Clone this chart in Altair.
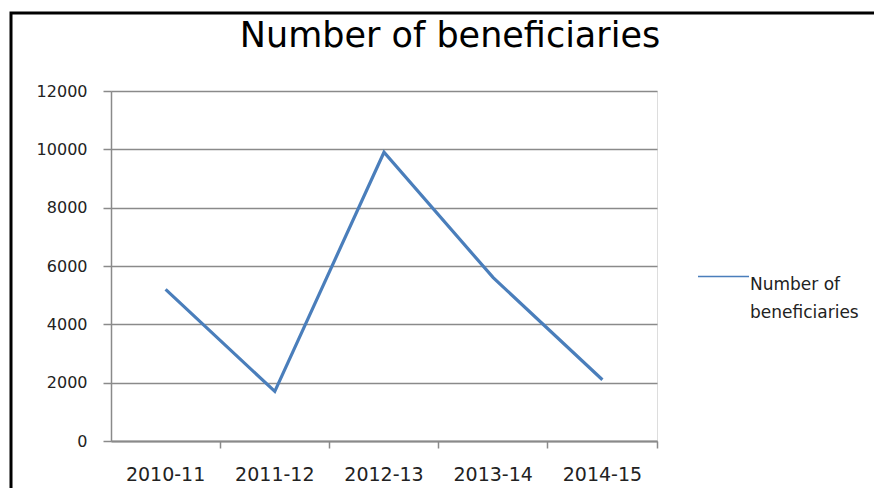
import altair as alt
import pandas as pd

years = ["2010-11", "2011-12", "2012-13", "2013-14", "2014-15"]
beneficiaries = [5200, 1700, 9900, 5600, 2100]
series_name = "Number of beneficiaries"
y_ticks = [0, 2000, 4000, 6000, 8000, 10000, 12000]

df = pd.DataFrame({"year": years, "value": beneficiaries, "series": [series_name] * len(years)})

FONT = "DejaVu Sans"
GRID = "#8a8a8a"

frame = alt.Chart(alt.Data(values=[{}])).mark_rect(
    fill="white", fillOpacity=0, stroke="black", strokeWidth=3
).encode(
    x=alt.value(-100), x2=alt.value(900), y=alt.value(-78), y2=alt.value(500)
)

title = alt.Chart(alt.Data(values=[{"t": series_name}])).mark_text(
    fontSize=35, font=FONT, baseline="alphabetic", align="center", color="black"
).encode(text="t:N", x=alt.value(339), y=alt.value(-44))

line = alt.Chart(df).mark_line(strokeWidth=3.2).encode(
    x=alt.X("year:N", sort=years,
            scale=alt.Scale(type="band", paddingInner=0, paddingOuter=0),
            axis=alt.Axis(title=None, labelAngle=0, bandPosition=1, tickSize=7,
                          tickColor=GRID, tickWidth=1.5, domainColor=GRID, domainWidth=2,
                          labelPadding=17, labelFontSize=19, labelFont=FONT,
                          labelColor="#222222", grid=False)),
    y=alt.Y("value:Q", scale=alt.Scale(domain=[0, 12000], nice=False),
            axis=alt.Axis(title=None, values=y_ticks, format="d", tickSize=8,
                          tickColor=GRID, tickWidth=1.5, domainColor=GRID, domainWidth=1.5,
                          gridColor=GRID, gridWidth=1.5, labelPadding=16,
                          labelFontSize=16, labelFont=FONT, labelColor="#222222")),
    color=alt.Color("series:N",
                    scale=alt.Scale(domain=[series_name], range=["#4A7EBB"]),
                    legend=alt.Legend(title=None, orient="none", legendX=586, legendY=159,
                                      symbolType="stroke", symbolSize=2601,
                                      symbolStrokeWidth=1.5, labelOffset=0, padding=0,
                                      labelBaseline="top", labelFontSize=17, labelFont=FONT,
                                      labelColor="#222222", labelLimit=0,
                                      labelExpr="['Number of', 'beneficiaries']")),
)

chart = alt.layer(frame, title, line).properties(
    width=546, height=350,
    autosize=alt.AutoSizeParams(type="none"),
    padding={"left": 103, "top": 83, "right": 217, "bottom": 47},
    background="white",
).configure_view(strokeWidth=0).configure(
    style={"guide-label": {"lineHeight": 28}}
)

chart.save("out.html", embed_options={"renderer": "svg", "actions": False})
